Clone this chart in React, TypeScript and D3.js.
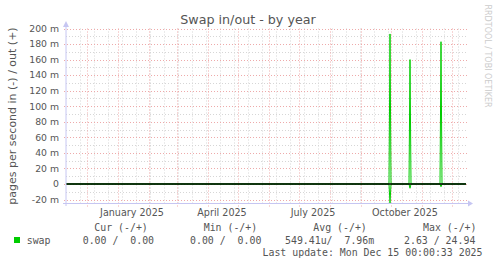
import React from "react";
import * as d3 from "d3";

// ---- data (milli pages/s) ----
const dates = [
  "2024-11-10", "2025-09-29", "2025-09-30", "2025-10-01",
  "2025-10-19", "2025-10-20", "2025-10-21",
  "2025-11-19", "2025-11-20", "2025-11-21", "2025-12-15",
];
const outValues = [0, 0, 193, 0, 0, 160, 0, 0, 183, 0, 0];
const inValues = [0, 0, 24.5, 0, 0, 5.5, 0, 0, 3.5, 0, 0];

const yTicks = [200, 180, 160, 140, 120, 100, 80, 60, 40, 20, 0, -20];
const yMinor = [190, 170, 150, 130, 110, 90, 70, 50, 30, 10, -10];
const monthLabels = ["January 2025", "April 2025", "July 2025", "October 2025"];
const monthLabelDates = ["2025-01-15", "2025-04-15", "2025-07-15", "2025-10-15"];

const legendHeaders = ["Cur (-/+)", "Min (-/+)", "Avg (-/+)", "Max (-/+)"];
const legendValues = ["0.00 /  0.00", "0.00 /  0.00", "549.41u/  7.96m", "2.63 / 24.94"];
const seriesName = "swap";
const lastUpdate = "Last update: Mon Dec 15 00:00:33 2025";

const X0 = 66, X1 = 466, Y0 = 28.5, Y1 = 203.5;
const GREEN = "#00cc00";
const AXIS = "#c6c6f2";
const TXT = "#555";

const parse = (s: string) => new Date(s + "T00:00:00Z");

export default function App() {
  const x = d3.scaleUtc().domain([parse("2024-11-10"), parse("2025-12-15")]).range([X0, X1]);
  const y = d3.scaleLinear().domain([-25.1, 200]).range([Y1, Y0]);

  const majorX = d3.utcMonth.range(parse("2024-11-11"), parse("2025-12-15"));
  const minorX: Date[] = [];
  for (let t = parse("2025-12-07").getTime(); t > parse("2024-11-10").getTime(); t -= 14 * 86400000) {
    minorX.push(new Date(t));
  }
  const px = (v: number) => Math.round(v) + 0.5;

  const pts = dates.map((d, i) => ({ d: parse(d), o: outValues[i], n: -inValues[i] }));
  const outLine = d3.line<any>().x((p) => x(p.d)).y((p) => y(p.o))(pts) || "";
  const inLine = d3.line<any>().x((p) => x(p.d)).y((p) => y(p.n))(pts) || "";

  const sans = "'DejaVu Sans', sans-serif";
  const mono = "'DejaVu Sans Mono', monospace";
  const legendX = [94.3, 203.7, 313.3, 423];
  const valueX = [82.7, 190, 285, 404];
  const MINOR = "#d6d6d6";
  const MAJOR = "#eeaaaa";

  return (
    <svg width={497} height={264} style={{ position: "absolute", left: 0, top: 0, background: "#fff" }}>
      <rect x={0} y={0} width={497} height={264} fill="#fff" />
      {/* minor grid */}
      {minorX.map((d, i) => (
        <line key={"mx" + i} x1={px(x(d))} x2={px(x(d))} y1={Y0} y2={Y1 + 2} stroke={MINOR} strokeDasharray="1,2" />
      ))}
      {yMinor.map((v, i) => (
        <line key={"my" + i} x1={X0} x2={X1 + 2} y1={px(y(v))} y2={px(y(v))} stroke={MINOR} strokeDasharray="1,2" />
      ))}
      {/* major grid */}
      {majorX.map((d, i) => (
        <line key={"Mx" + i} x1={px(x(d))} x2={px(x(d))} y1={Y0} y2={Y1 + 3} stroke={MAJOR} strokeDasharray="1,2" />
      ))}
      {yTicks.map((v, i) => (
        <line key={"My" + i} x1={X0 - 2} x2={X1 + 2} y1={px(y(v))} y2={px(y(v))} stroke={MAJOR} strokeDasharray="1,2" />
      ))}
      {/* y tick labels */}
      {yTicks.map((v, i) => (
        <text key={"yl" + i} x={59} y={y(v) + 3.3} textAnchor="end" fontFamily={sans} fontSize={9.3} fill={TXT}>
          {v === 0 ? "0" : `${v} m`}
        </text>
      ))}
      {/* month labels */}
      {monthLabels.map((m, i) => (
        <text key={"ml" + i} x={x(parse(monthLabelDates[i]))} y={216} textAnchor="middle" fontFamily={sans} fontSize={9.6} fill={TXT}>
          {m}
        </text>
      ))}
      {/* data */}
      <path d={outLine} fill="none" stroke={GREEN} strokeWidth={1} />
      <path d={inLine} fill="none" stroke={GREEN} strokeWidth={1} />
      <line x1={X0} x2={X1} y1={y(0)} y2={y(0)} stroke="#000" strokeWidth={1.5} />
      {/* axes */}
      <line x1={px(X0) - 0.5} x2={px(X0) - 0.5} y1={206} y2={24} stroke={AXIS} />
      <line x1={63} x2={469} y1={Y1} y2={Y1} stroke={AXIS} />
      <path d={`M${X0 - 3},27 L${X0},21 L${X0 + 3},27 Z`} fill={AXIS} />
      <path d={`M468,${Y1 - 3} L473,${Y1} L468,${Y1 + 3} Z`} fill={AXIS} />
      {/* title */}
      <text x={248} y={24} textAnchor="middle" fontFamily={sans} fontSize={12.7} fill={TXT}>
        Swap in/out - by year
      </text>
      {/* y axis label */}
      <text transform={`translate(16,116) rotate(-90)`} textAnchor="middle" fontFamily={sans} fontSize={11} fill={TXT}>
        pages per second in (-) / out (+)
      </text>
      {/* watermark */}
      <text transform={`translate(485,56) rotate(90)`} textAnchor="middle" fontFamily={sans} fontSize={8} fill="#cccccc">
        RRDTOOL / TOBI OETIKER
      </text>
      {/* legend */}
      {legendHeaders.map((h, i) => (
        <text key={"lh" + i} x={legendX[i]} y={231} fontFamily={mono} fontSize={9.9} fill={TXT} style={{ whiteSpace: "pre" }}>
          {h}
        </text>
      ))}
      <rect x={14} y={237} width={6} height={6} fill={GREEN} />
      <text x={26.7} y={243.5} fontFamily={mono} fontSize={9.9} fill={TXT}>
        {seriesName}
      </text>
      {legendValues.map((v, i) => (
        <text key={"lv" + i} x={valueX[i]} y={243.5} fontFamily={mono} fontSize={9.9} fill={TXT} style={{ whiteSpace: "pre" }}>
          {v}
        </text>
      ))}
      <text x={482.5} y={256} textAnchor="end" fontFamily={mono} fontSize={9.9} fill={TXT} style={{ whiteSpace: "pre" }}>
        {lastUpdate}
      </text>
    </svg>
  );
}
